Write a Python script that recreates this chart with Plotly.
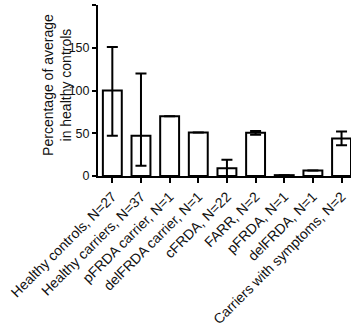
import plotly.graph_objects as go

categories = ["Healthy controls, N=27", "Healthy carriers, N=37", "pFRDA carrier, N=1",
              "delFRDA carrier, N=1", "cFRDA, N=22", "FARR, N=2", "pFRDA, N=1",
              "delFRDA, N=1", "Carriers with symptoms, N=2"]
values = [100, 47, 70, 51, 9, 50.5, 1, 6.5, 44]
err_plus = [51, 73, 0, 0, 10, 2.2, 0, 0, 8]
err_minus = [53, 35, 0, 0, 9, 2.2, 0, 0, 8]
y_title = "Percentage of average<br>in healthy controls"

fig = go.Figure()
fig.add_trace(go.Bar(
    x=list(range(len(categories))), y=values,
    width=0.66,
    marker=dict(color="white", line=dict(color="black", width=2)),
    error_y=dict(type="data", symmetric=False, array=err_plus, arrayminus=err_minus,
                 color="black", thickness=2, width=5.5),
))

fig.update_layout(
    width=358, height=330,
    margin=dict(l=98, r=7, t=5, b=154),
    plot_bgcolor="white", paper_bgcolor="white",
    showlegend=False,
    font=dict(family="Liberation Sans, Arial, sans-serif", size=12, color="#111"),
)
fig.add_annotation(
    text=y_title, xref="paper", yref="paper", x=-0.16, y=0.53,
    xanchor="center", yanchor="middle", textangle=-90, showarrow=False,
    font=dict(size=14), align="center",
)
fig.update_xaxes(
    range=[-0.5, 8.33], tickmode="array", tickvals=list(range(len(categories))),
    ticktext=categories, tickangle=-45, ticks="outside", ticklen=5, tickwidth=1.5,
    tickcolor="black", showline=True, linecolor="black", linewidth=2,
    showgrid=False, zeroline=False, tickfont=dict(size=14), automargin=False,
)
fig.update_yaxes(
    range=[0, 200], tickvals=[0, 50, 100, 150, 200], ticks="outside", ticklen=4,
    tickwidth=1.5, tickcolor="black", showline=True, linecolor="black", linewidth=2,
    showgrid=False, zeroline=False, tickfont=dict(size=12.5), automargin=False,
)
fig.write_html("out.html", config={"displayModeBar": False},
               post_script="document.body.style.margin='0';document.body.style.overflow='hidden';")
